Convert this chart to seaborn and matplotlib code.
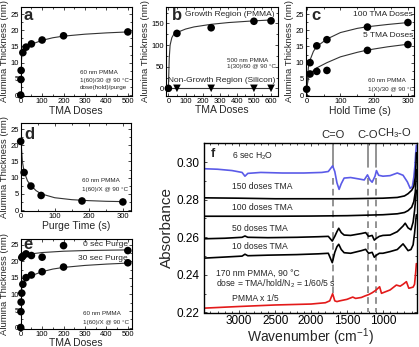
import matplotlib
matplotlib.use('Agg')
import matplotlib.pyplot as plt
import seaborn as sns
from matplotlib.ticker import MultipleLocator

# a - espesor vs dosis de TMA
a_doses = [0, 1, 2, 10, 25, 50, 100, 200, 500]
a_thick = [0, 4.8, 7.6, 13.1, 14.8, 15.8, 17.0, 18.3, 19.5]
a_fit_x = [0, 2, 5, 10, 25, 50, 100, 150, 200, 300, 400, 500]
a_fit_y = [0, 9, 12.2, 13.3, 14.6, 15.7, 16.9, 17.7, 18.2, 18.8, 19.2, 19.5]

# b - region de crecimiento (PMMA) y sin crecimiento (silicio)
b_doses = [0, 50, 250, 500, 600]
b_pmma = [0, 127, 140, 155, 156]
b_si_doses = [50, 250, 500, 600]
b_si = [0, 0, 0, 0]
b_fit_x = [0, 5, 10, 20, 30, 50, 100, 150, 250, 350, 500, 600]
b_fit_y = [0, 70, 100, 117, 124, 129, 137, 142, 148, 152, 156, 158]
b_si_fit_x = [0, 600]
b_si_fit_y = [0, 0]

# c - tiempo de hold
c_hold = [10, 30, 60, 180, 300]
c_100 = [10.0, 15.2, 17.1, 21.0, 22.4]
c_5 = [6.5, 7.3, 7.6, 13.8, 15.6]
c_zero_x = [0]
c_zero_y = [1.8]
c_fit_x = [0, 5, 10, 20, 30, 60, 100, 150, 180, 240, 300]
c_fit_100 = [2, 8.5, 10.8, 13.5, 15, 17.3, 19.3, 20.6, 21.1, 21.8, 22.4]
c_fit_5 = [2, 5, 6.3, 7.6, 8.4, 10, 11.8, 13.2, 13.9, 14.9, 15.7]

# d - tiempo de purga
d_purge = [0, 10, 30, 60, 180, 300]
d_thick = [21.2, 11.6, 7.4, 4.5, 2.8, 2.5]
d_fit_x = [0, 5, 10, 20, 30, 45, 60, 100, 150, 200, 250, 300]
d_fit_y = [22.5, 15, 11.8, 9, 7.6, 6, 5, 3.8, 3.2, 2.9, 2.7, 2.6]

# e - 0 s vs 30 s de purga
e_doses_0 = [5, 10, 25, 50, 100, 200, 500]
e_thick_0 = [21.2, 21.6, 22.3, 21.8, 21.3, 24.8, 23.3]
e_doses_30 = [0, 1, 2, 5, 10, 25, 50, 100, 200, 500]
e_thick_30 = [0, 4.8, 7.7, 10.4, 13.1, 15.1, 15.9, 16.9, 18.3, 19.6]
e_fit0_x = [3, 10, 25, 50, 100, 200, 300, 400, 500]
e_fit0_y = [20.8, 21.4, 21.9, 22.3, 22.7, 23.1, 23.3, 23.4, 23.5]

# f - espectros FTIR
h2o_wn = [3500, 3300, 3100, 2960, 2920, 2880, 2700, 2400, 2100, 1850, 1760, 1700, 1670,
          1640, 1610, 1580, 1540, 1450, 1330, 1260, 1215, 1180, 1150, 1110, 1090, 1060,
          1000, 900, 800, 720, 660, 620, 590, 570, 555, 545, 535]
h2o_abs = [0.2965, 0.2962, 0.2955, 0.2945, 0.2925, 0.2940, 0.2945, 0.2942, 0.2942, 0.2945,
           0.2950, 0.2980, 0.2950, 0.2890, 0.2855, 0.2885, 0.2915, 0.2918, 0.2910, 0.2905,
           0.2932, 0.2905, 0.2893, 0.2925, 0.2955, 0.2930, 0.2925, 0.2928, 0.2942, 0.2930,
           0.2895, 0.2860, 0.2870, 0.2920, 0.2980, 0.3040, 0.3090]
tma150_wn = [3500, 3000, 2500, 2000, 1500, 1000, 800, 700, 650, 600, 570, 550, 540, 535]
tma150_abs = [0.2810, 0.2808, 0.2805, 0.2805, 0.2805, 0.2808, 0.2812, 0.2820, 0.2832,
              0.2850, 0.2870, 0.2920, 0.2990, 0.3050]
tma100_wn = [3500, 3000, 2500, 2000, 1500, 1000, 800, 700, 650, 600, 570, 550, 540, 535]
tma100_abs = [0.2712, 0.2712, 0.2712, 0.2713, 0.2715, 0.2720, 0.2725, 0.2732, 0.2742,
              0.2760, 0.2790, 0.2840, 0.2900, 0.2960]
tma50_wn = [3500, 3200, 2960, 2920, 2880, 2600, 2200, 1900, 1760, 1705, 1670, 1640, 1615,
            1580, 1540, 1450, 1300, 1240, 1200, 1150, 1120, 1090, 1050, 1000, 900, 800,
            720, 690, 650, 610, 580, 560, 545, 535]
tma50_abs = [0.2592, 0.2595, 0.2600, 0.2607, 0.2600, 0.2598, 0.2600, 0.2603, 0.2605,
             0.2580, 0.2605, 0.2630, 0.2648, 0.2625, 0.2612, 0.2610, 0.2620, 0.2625,
             0.2605, 0.2610, 0.2585, 0.2595, 0.2605, 0.2610, 0.2612, 0.2630, 0.2660,
             0.2675, 0.2650, 0.2640, 0.2680, 0.2740, 0.2800, 0.2850]
tma10_wn = [3500, 3200, 2960, 2920, 2880, 2600, 2200, 1900, 1760, 1705, 1670, 1640, 1615,
            1580, 1540, 1450, 1300, 1240, 1200, 1150, 1120, 1090, 1050, 1000, 900, 800,
            720, 690, 650, 610, 580, 560, 545, 535]
tma10_abs = [0.2489, 0.2495, 0.2500, 0.2510, 0.2502, 0.2505, 0.2508, 0.2512, 0.2515,
             0.2465, 0.2520, 0.2550, 0.2563, 0.2535, 0.2518, 0.2515, 0.2529, 0.2536,
             0.2515, 0.2520, 0.2494, 0.2505, 0.2515, 0.2515, 0.2524, 0.2535, 0.2565,
             0.2550, 0.2529, 0.2535, 0.2560, 0.2620, 0.2680, 0.2720]
pmma_wn = [3500, 3000, 2500, 2000, 1800, 1740, 1700, 1670, 1640, 1600, 1500, 1420, 1380,
           1300, 1250, 1200, 1150, 1100, 1046, 1020, 980, 900, 813, 760, 720, 673, 640,
           610, 580, 560, 545, 535]
pmma_abs = [0.2223, 0.2232, 0.2240, 0.2245, 0.2252, 0.2262, 0.2300, 0.2262, 0.2258,
            0.2262, 0.2270, 0.2282, 0.2275, 0.2280, 0.2288, 0.2295, 0.2305, 0.2318,
            0.2337, 0.2302, 0.2308, 0.2320, 0.2346, 0.2340, 0.2350, 0.2364, 0.2329,
            0.2332, 0.2335, 0.2350, 0.2410, 0.2460]
peak_wn = [1700, 1210, 1092]
peak_names = ['C=O', 'C-O', 'CH$_3$-O']

sns.set_style('ticks')
plt.rcParams['font.family'] = ['Liberation Sans', 'DejaVu Sans']
plt.rcParams['mathtext.default'] = 'regular'

fig = plt.figure(figsize=(4.19, 3.47), dpi=100)
W, H = 419.0, 347.0


def box(l, t, r, b):
    return [l / W, 1 - b / H, (r - l) / W, (b - t) / H]


def style(ax, xlim, ylim, xmaj, ymaj, xmin, ymin, size=5.5, lw=0.8):
    ax.set_xlim(*xlim)
    ax.set_ylim(*ylim)
    ax.xaxis.set_major_locator(MultipleLocator(xmaj))
    ax.yaxis.set_major_locator(MultipleLocator(ymaj))
    ax.xaxis.set_minor_locator(MultipleLocator(xmin))
    ax.yaxis.set_minor_locator(MultipleLocator(ymin))
    ax.tick_params(which='both', direction='in', top=True, right=True, width=0.5,
                   labelsize=size, pad=1.5, colors='black')
    ax.tick_params(which='major', length=2.5)
    ax.tick_params(which='minor', length=1.3)
    for s in ax.spines.values():
        s.set_linewidth(lw)
        s.set_color('black')


def pts(ax, x, y, marker='o'):
    sns.scatterplot(x=x, y=y, ax=ax, color='black', s=30, marker=marker,
                    edgecolor='none', clip_on=False, legend=False, zorder=3)


def fit(ax, x, y):
    sns.lineplot(x=x, y=y, ax=ax, color='#333333', linewidth=0.8, estimator=None,
                 sort=False, legend=False)


def labels(ax, xl, yl='Alumina Thickness (nm)'):
    ax.set_xlabel(xl, fontsize=7.5, labelpad=0.5)
    ax.set_ylabel(yl, fontsize=6.8, labelpad=1)


small = dict(fontsize=4.5, va='center')
letter = dict(fontsize=12, fontweight='bold', va='center')
mid = dict(fontsize=6, va='center')

# --- a
ax = fig.add_axes(box(20.7, 7, 131.7, 96))
fit(ax, a_fit_x, a_fit_y)
pts(ax, a_doses, a_thick)
style(ax, (0, 518), (-0.3, 27.2), 100, 5, 50, 2.5)
labels(ax, 'TMA Doses')
ax.text(12, 24.6, 'a', **letter)
ax.text(277, 7.1, '60 nm PMMA', **small)
ax.text(277, 4.6, '1(60)/30 @ 90 °C', **small)
ax.text(277, 2.2, 'dose(hold)/purge', **small)

# --- b
ax = fig.add_axes(box(166, 7, 277.7, 95.7))
fit(ax, b_fit_x, b_fit_y)
fit(ax, b_si_fit_x, b_si_fit_y)
pts(ax, b_doses, b_pmma)
pts(ax, b_si_doses, b_si, marker='v')
style(ax, (-14, 639), (-17, 188), 100, 50, 50, 25)
labels(ax, 'TMA Doses')
ax.text(22, 168, 'b', **letter)
ax.text(623, 170, 'Growth Region (PMMA)', ha='right', **mid)
ax.text(623, 17, 'Non-Growth Region (Silicon)', ha='right', **mid)
ax.text(341, 65, '500 nm PMMA', **small)
ax.text(341, 50, '1(30)/60 @ 90 °C', **small)

# --- c
ax = fig.add_axes(box(306, 7, 414, 96))
fit(ax, c_fit_x, c_fit_100)
fit(ax, c_fit_x, c_fit_5)
pts(ax, c_hold, c_100)
pts(ax, c_hold, c_5)
pts(ax, c_zero_x, c_zero_y)
style(ax, (-2, 318), (-0.3, 27.2), 100, 5, 50, 2.5)
labels(ax, 'Hold Time (s)')
ax.text(15, 24.6, 'c', **letter)
ax.text(315, 24.8, '100 TMA Doses', ha='right', **mid)
ax.text(315, 18.5, '5 TMA Doses', ha='right', **mid)
ax.text(182, 4.4, '60 nm PMMA', **small)
ax.text(182, 1.85, '1(X)/30 @ 90 °C', **small)

# --- d
ax = fig.add_axes(box(20.7, 123.3, 130.7, 211))
fit(ax, d_fit_x, d_fit_y)
pts(ax, d_purge, d_thick)
style(ax, (0, 323), (-0.3, 26.8), 100, 5, 50, 2.5)
labels(ax, 'Purge Time (s)')
ax.text(10, 23.2, 'd', **letter)
ax.text(179, 9.0, '60 nm PMMA', **small)
ax.text(179, 6.2, '1(60)/X @ 90 °C', **small)

# --- e
ax = fig.add_axes(box(20.7, 239, 131.7, 328.5))
fit(ax, e_fit0_x, e_fit0_y)
fit(ax, a_fit_x, a_fit_y)
pts(ax, e_doses_0, e_thick_0)
pts(ax, e_doses_30, e_thick_30)
style(ax, (0, 518), (-0.3, 26.8), 100, 5, 50, 2.5)
labels(ax, 'TMA Doses')
ax.text(12, 25, 'e', **letter)
ax.text(501, 25, '0 sec Purge', ha='right', **mid)
ax.text(501, 21, '30 sec Purge', ha='right', **mid)
ax.text(291, 4.1, '60 nm PMMA', **small)
ax.text(291, 1.6, '1(60)/X @ 90 °C', **small)

# --- f
ax = fig.add_axes(box(204, 143.3, 416.7, 312.5))
for wn, ab, col in [(h2o_wn, h2o_abs, '#5b5be8'), (tma150_wn, tma150_abs, 'black'),
                    (tma100_wn, tma100_abs, 'black'), (tma50_wn, tma50_abs, 'black'),
                    (tma10_wn, tma10_abs, 'black'), (pmma_wn, pmma_abs, '#e31a1a')]:
    sns.lineplot(x=wn, y=ab, ax=ax, color=col, linewidth=1.2, estimator=None,
                 sort=False, legend=False)
ends = [0.2285, 0.22, 0.22]
for w, name, end in zip(peak_wn, peak_names, ends):
    ax.plot([w, w], [0.31, 0.2975], color='#808080', lw=1.2, zorder=1)
    ax.plot([w, w], [0.2915, end], color='#808080', lw=1.2, ls=(0, (4, 2.5)), zorder=1)
ax.text(peak_wn[0], 0.3115, peak_names[0], ha='center', va='bottom', fontsize=8)
ax.text(peak_wn[1], 0.3115, peak_names[1], ha='center', va='bottom', fontsize=8)
ax.text(peak_wn[2] - 10, 0.3115, peak_names[2], ha='left', va='bottom', fontsize=8)
style(ax, (3490, 530), (0.22, 0.31), 500, 0.02, 100, 0.01, size=8.5, lw=1)
ax.tick_params(axis='y', pad=3)
ax.tick_params(axis='x', pad=2)
ax.set_xlabel('Wavenumber (cm$^{-1}$)', fontsize=10, labelpad=-0.5)
ax.set_ylabel('Absorbance', fontsize=11, labelpad=2)
ft = dict(fontsize=6.2, va='center', ha='left')
ax.text(3400, 0.3045, 'f', fontsize=9, fontweight='bold', va='center')
ax.text(3100, 0.303, '6 sec H$_2$O', **ft)
ax.text(3100, 0.287, '150 doses TMA', **ft)
ax.text(3100, 0.276, '100 doses TMA', **ft)
ax.text(3100, 0.2649, '50 doses TMA', **ft)
ax.text(3100, 0.255, '10 doses TMA', **ft)
ax.text(3317, 0.2408, '170 nm PMMA, 90 °C', **ft)
ax.text(3317, 0.2355, 'dose = TMA/hold/N$_2$ = 1/60/5 s', **ft)
ax.text(3100, 0.2276, 'PMMA x 1/5', **ft)

fig.savefig('out.png', dpi=100)
